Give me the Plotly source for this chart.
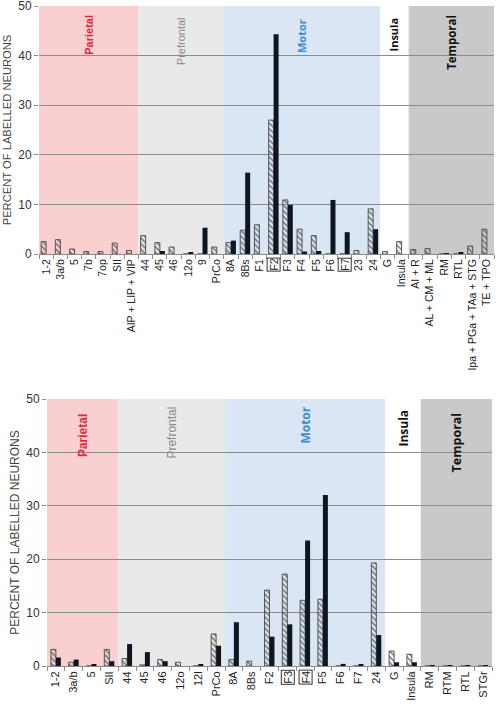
import plotly.graph_objects as go

# ---------------- DATA ----------------
top_cats = ["1-2", "3a/b", "5", "7b", "7op", "SII", "AIP + LIP + VIP",
            "44", "45", "46", "12o", "9", "PrCo",
            "8A", "8Bs", "F1", "F2", "F3", "F4", "F5", "F6", "F7", "23", "24",
            "G", "Insula",
            "AI + R", "AL + CM + ML", "RM", "RTL", "Ipa + PGa + TAa + STG", "TE + TPO"]
top_hatched = [2.5, 2.9, 1.0, 0.5, 0.5, 2.2, 0.7,
               3.7, 2.3, 1.4, 0, 0, 1.4,
               2.3, 4.8, 5.9, 27.0, 10.9, 5.0, 3.7, 0, 0, 0.7, 9.1,
               0.5, 2.5,
               0.9, 1.1, 0, 0, 1.6, 5.0]
top_black = [0, 0, 0, 0, 0, 0, 0,
             0, 0.6, 0, 0.3, 5.3, 0,
             2.7, 16.4, 0, 44.3, 9.9, 0.5, 0.6, 10.9, 4.4, 0, 5.0,
             0, 0,
             0, 0, 0.1, 0.3, 0, 0]
top_region_sizes = [7, 6, 11, 2, 6]
top_boxed = ["F2", "F7"]

bot_cats = ["1-2", "3a/b", "5", "SII",
            "44", "45", "46", "12o", "12l", "PrCo",
            "8A", "8Bs", "F2", "F3", "F4", "F5", "F6", "F7", "24",
            "G", "Insula",
            "RM", "RTM", "RTL", "STGr"]
bot_hatched = [3.1, 0.7, 0, 3.1,
               1.4, 0.2, 1.2, 0.7, 0, 6.0,
               1.2, 0.9, 14.2, 17.2, 12.3, 12.5, 0, 0, 19.3,
               2.8, 2.2,
               0, 0, 0, 0]
bot_black = [1.6, 1.2, 0.2, 0.9,
             4.1, 2.6, 0.9, 0, 0.2, 3.8,
             8.2, 0, 5.5, 7.8, 23.5, 32.0, 0.4, 0.2, 5.8,
             0.7, 0.7,
             0.1, 0.1, 0.1, 0.1]
bot_region_sizes = [4, 6, 9, 2, 4]
bot_boxed = ["F3", "F4"]

region_names = ["Parietal", "Prefrontal", "Motor", "Insula", "Temporal"]
y_ticks = [0, 10, 20, 30, 40, 50]
y_title = "PERCENT OF LABELLED NEURONS"

# ---------------- STYLE ----------------
W, H = 498, 710
region_fill = ["#f9cfcf", "#e9e9e9", "#dae6f4", "#ffffff", "#c9c9c9"]
region_color = ["#e0283a", "#8a8a8a", "#3a8ed0", "#111111", "#111111"]
region_family = ["Liberation Sans, Arial", "Liberation Sans, Arial",
                 "Open Sans, Liberation Sans", "Open Sans, Liberation Sans",
                 "Open Sans, Liberation Sans"]
region_bold = [True, False, True, True, True]
AX_FONT = "Liberation Sans, Arial"
GRID = "#8c8c8c"
BLACK = "#0e1720"

panels = [
    dict(cats=top_cats, h=top_hatched, b=top_black, sizes=top_region_sizes, boxed=top_boxed,
         px=(39, 494), py=(6, 254), w=0.35, fs=10.5, tfs=11.2,
         label_top=[7, 9, 11, 9, 7], label_fs=[11, 11, 11, 11, 11.5]),
    dict(cats=bot_cats, h=bot_hatched, b=bot_black, sizes=bot_region_sizes, boxed=bot_boxed,
         px=(47, 492), py=(399, 666), w=0.28, fs=11, tfs=12,
         label_top=[13, 6, 6, 9, 11], label_fs=[12, 12, 12, 12, 12.5]),
]

fig = go.Figure()
shapes, annotations = [], []

for k, p in enumerate(panels):
    sfx = "" if k == 0 else str(k + 1)
    xname, yname = "x" + sfx, "y" + sfx
    cats = p["cats"]
    ph = p["py"][1] - p["py"][0]
    fig.add_trace(go.Bar(
        x=cats, y=p["h"], xaxis=xname, yaxis=yname, width=p["w"], offset=-p["w"],
        marker=dict(color="rgba(0,0,0,0)", line=dict(color="#555555", width=1),
                    pattern=dict(shape="\\", fgcolor="#6b6b6b", bgcolor="rgba(0,0,0,0)",
                                 size=4, solidity=0.35, fillmode="replace")),
        showlegend=False, hoverinfo="x+y"))
    fig.add_trace(go.Bar(
        x=cats, y=p["b"], xaxis=xname, yaxis=yname, width=p["w"], offset=0,
        marker=dict(color=BLACK, line=dict(width=0)),
        showlegend=False, hoverinfo="x+y"))

    # region shading + labels
    start = 0
    for i, n in enumerate(p["sizes"]):
        shapes.append(dict(type="rect", xref=xname, yref=yname,
                           x0=start - 0.5, x1=start + n - 0.5, y0=0, y1=50,
                           fillcolor=region_fill[i], line=dict(width=0), layer="below"))
        txt = "<b>%s</b>" % region_names[i] if region_bold[i] else region_names[i]
        annotations.append(dict(xref=xname, yref=yname + " domain", x=start + (n - 1) / 2,
                                y=1 - p["label_top"][i] / ph, text=txt, textangle=-90,
                                showarrow=False,
                                font=dict(family=region_family[i], size=p["label_fs"][i],
                                          color=region_color[i]),
                                xanchor="center", yanchor="top"))
        start += n

    # boxed tick labels
    ticktext = ["" if c in p["boxed"] else c for c in cats]
    for c in p["boxed"]:
        annotations.append(dict(xref=xname, yref=yname + " domain", x=cats.index(c),
                                y=-4 / ph, yanchor="top", xanchor="center",
                                text=c, textangle=-90, showarrow=False,
                                font=dict(family=AX_FONT, size=p["fs"], color="#222222"),
                                bordercolor="#333333", borderwidth=1, borderpad=0))

    x0, x1 = p["px"]
    ytop, ybot = p["py"]
    fig.update_layout(**{
        "xaxis" + sfx: dict(
            type="category", categoryorder="array", categoryarray=cats,
            tickvals=cats, ticktext=ticktext,
            domain=[x0 / W, x1 / W], anchor=yname, range=[-0.5, len(cats) - 0.5],
            tickangle=-90, tickfont=dict(family=AX_FONT, size=p["fs"], color="#222222"),
            ticks="outside", tickson="boundaries", ticklen=4, tickcolor=GRID,
            showline=True, linecolor=GRID, linewidth=1, showgrid=False, automargin=False,
            ticklabeloverflow="allow"),
        "yaxis" + sfx: dict(
            domain=[1 - ybot / H, 1 - ytop / H], anchor=xname, range=[0, 50],
            tickvals=y_ticks, tickfont=dict(family=AX_FONT, size=12, color="#333333"),
            ticks="outside", ticklen=4, tickcolor=GRID,
            showgrid=True, gridcolor=GRID, gridwidth=1, zeroline=False, showline=False,
            ticklabeloverflow="allow",
            title=dict(text=y_title, font=dict(family=AX_FONT, size=p["tfs"], color="#444444"),
                       standoff=4),
            automargin=False),
    })

fig.update_layout(
    width=W, height=H, margin=dict(l=0, r=0, t=0, b=0),
    paper_bgcolor="white", plot_bgcolor="rgba(0,0,0,0)",
    barmode="overlay", shapes=shapes, annotations=annotations,
)

fig.write_html("out.html")
